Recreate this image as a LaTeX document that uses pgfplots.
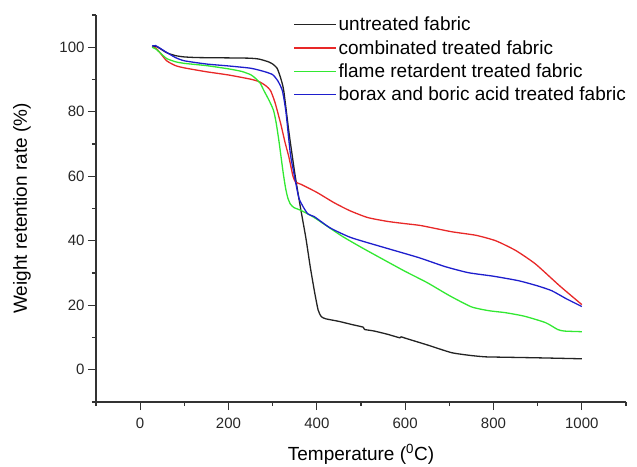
\documentclass[border=0pt]{standalone}
\usepackage{fontspec}
\setmainfont{Liberation Sans}
\usepackage{pgfplots}
\pgfplotsset{compat=1.18}

\definecolor{cblack}{RGB}{35,35,35}
\definecolor{cred}{RGB}{232,40,40}
\definecolor{cgreen}{RGB}{50,232,50}
\definecolor{cblue}{RGB}{30,30,205}

\begin{document}
\begin{tikzpicture}
\begin{axis}[
  scale only axis, width=530pt, height=387pt,
  xmin=-100, xmax=1100, ymin=-10, ymax=110,
  axis lines=left, axis line style={-, line width=1.1pt, black!80},
  xtick={0,200,...,1000}, minor xtick={-100,100,...,1100},
  ytick={0,20,...,100}, minor ytick={-10,10,...,110},
  tick align=outside, major tick length=8pt, minor tick length=4pt,
  every tick/.style={black!80, line width=1.1pt},
  /pgf/number format/assume math mode=true,
  /pgf/number format/1000 sep={},
  tick label style={font=\fontsize{15}{15}\selectfont, text=black!85},
  xticklabel shift=4pt,
  xlabel={Temperature (\textsuperscript{0}C)},
  ylabel={Weight retention rate (\%)},
  every axis x label/.style={at={(axis description cs:0.5,-0.1499)}, anchor=base, font=\fontsize{19}{19}\selectfont},
  every axis y label/.style={at={(axis description cs:-0.1396,0.5)}, rotate=90, anchor=center, font=\fontsize{19}{19}\selectfont},
  legend style={at={(axis description cs:0.372,1.0)}, anchor=north west, draw=none, fill=none,
    font=\fontsize{19}{19}\selectfont, row sep=4pt, inner sep=0pt},
  legend cell align=left,
  legend image code/.code={\draw[#1] (0pt,0pt) -- (42pt,0pt);},
  every axis plot/.append style={line width=1.3pt, smooth, tension=0.35},
  clip=false,
]
\coordinate (sw) at (rel axis cs:0,0);
\coordinate (ne) at (rel axis cs:1,1);

\addplot[cblack] coordinates {
(27,100)(35,100.3)(45,99.6)(60,98.3)(80,97.4)(100,97)(130,96.8)(200,96.7)(250,96.6)
(270,96.3)(290,95.5)(300,94.8)(310,93.5)(318,90.5)(325,86.6)(337,73.5)(350,61)(362,51)
(375,41)(385,32)(395,24)(403,18.5)(410,16.5)(420,15.8)(450,15)(480,14)(505,13.2)(508,12.5)
(530,12)(560,11)(588,9.9)(591,10.2)(600,9.8)(650,7.7)(705,5.3)(750,4.4)(782,4)(818,3.9)
(900,3.7)(1000,3.4)};
\addlegendentry{untreated fabric}

\addplot[cred] coordinates {
(27,100)(35,99.8)(45,98.3)(60,95.8)(80,94.3)(100,93.6)(150,92.4)(200,91.4)(250,90.1)
(270,89.3)(285,88)(295,86.6)(305,83)(318,76.4)(328,70.5)(337,65.8)(346,60)(352,58.2)
(364,57.5)(400,55)(439,51.8)(475,49.3)(515,47.2)(560,46)(600,45.3)(636,44.7)(705,42.8)
(760,41.7)(805,40)(850,37)(895,32.8)(950,26)(1000,20.2)};
\addlegendentry{combinated treated fabric}

\addplot[cgreen] coordinates {
(27,100)(35,99.5)(45,98.3)(60,96.5)(80,95.5)(100,95)(150,94.3)(200,93.3)(230,92.5)
(250,91.5)(260,90.5)(272,88.8)(280,86.6)(292,83.5)(302,80.4)(308,76.5)(314,71.1)(319,66)
(324,60.9)(329,56.5)(334,53.4)(340,51.4)(348,50.3)(364,49.4)(394,47.2)(455,41.6)(500,38)
(553,34)(600,30.5)(650,27)(700,23)(750,19.5)(790,18.3)(827,17.7)(870,16.6)
(918,14.6)(945,12.5)(960,12)(1000,11.8)};
\addlegendentry{flame retardent treated fabric}

\addplot[cblue] coordinates {
(27,100.4)(35,100.5)(45,99.7)(60,98.4)(80,96.8)(100,95.8)(150,94.8)(200,94.2)(250,93.5)
(280,92.5)(300,91.5)(312,89.5)(322,86.5)(330,80)(340,67)(348,61)(360,53)(379,48.4)
(394,47.5)(430,44)(477,41)(550,38)(630,34.8)(690,32)(743,30.1)(800,29)(857,27.6)
(900,26)(932,24.5)(965,22)(1000,19.6)};
\addlegendentry{borax and boric acid treated fabric}
\end{axis}
\pgfresetboundingbox
\path ([xshift=-96pt,yshift=-64pt]sw) rectangle ([xshift=11pt,yshift=15pt]ne);
\end{tikzpicture}
\end{document}
